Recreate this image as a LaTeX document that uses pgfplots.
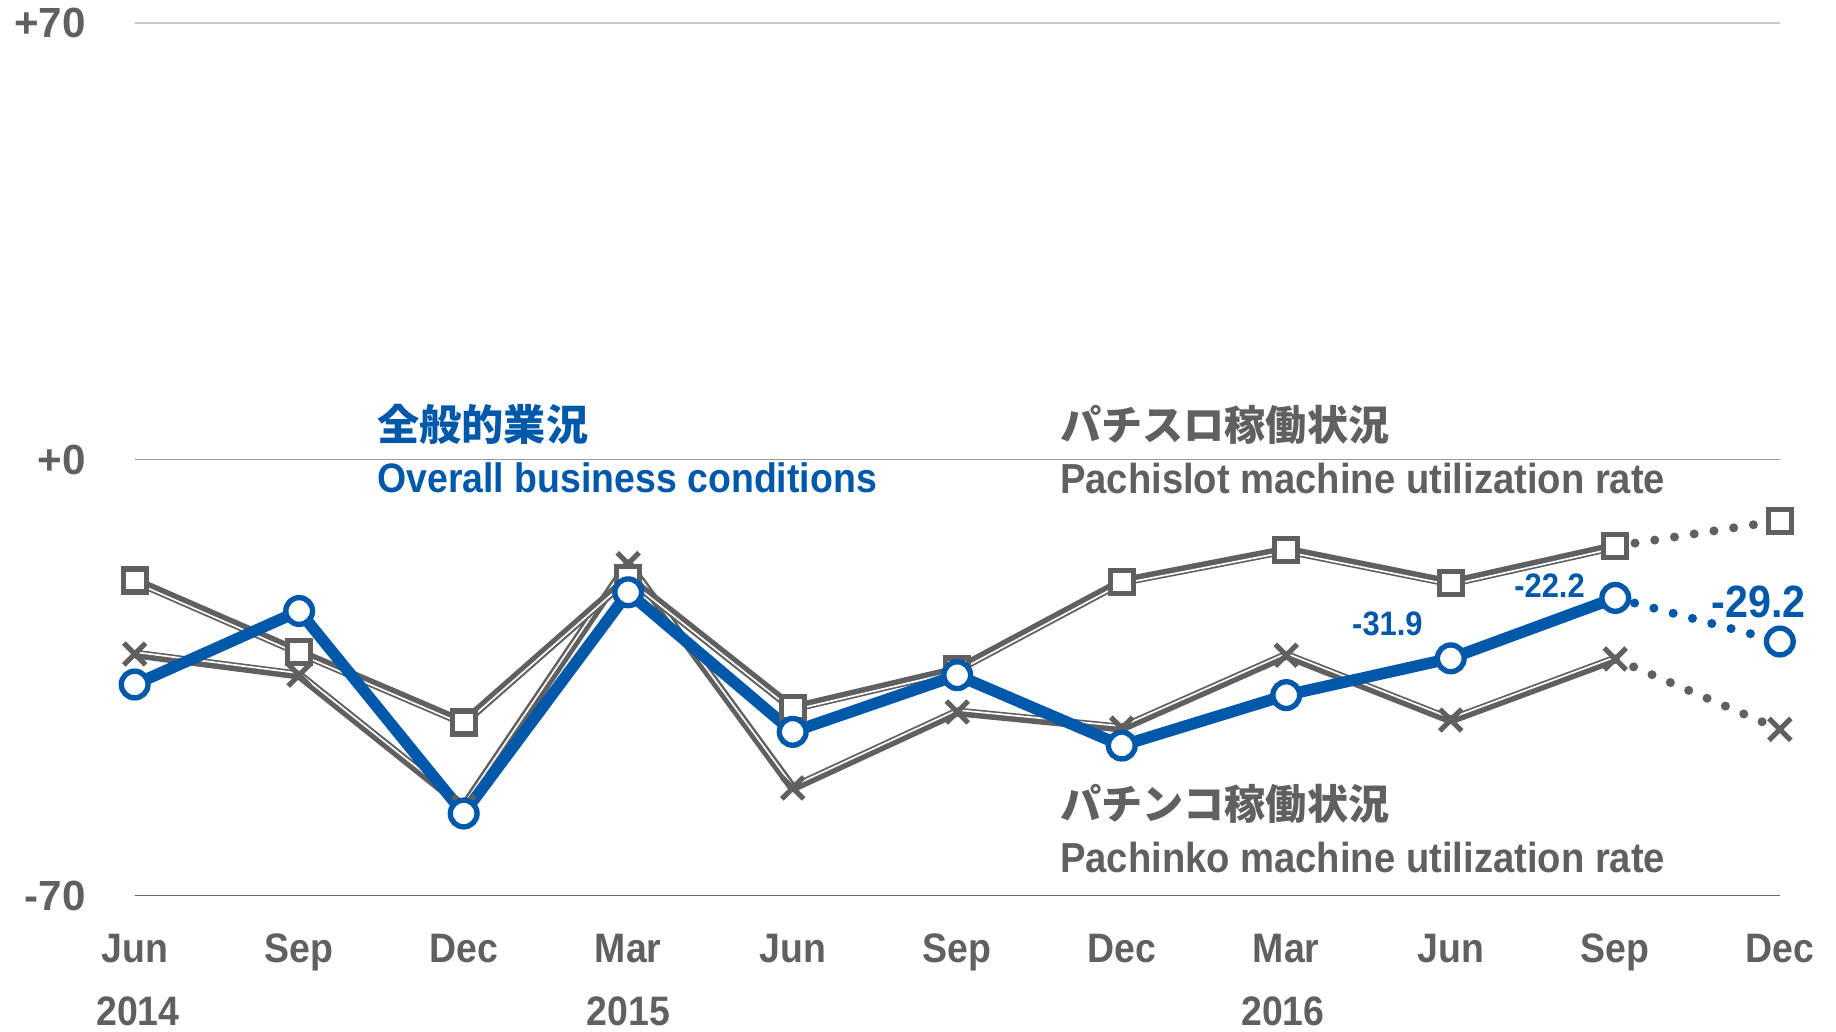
\documentclass[border=0pt]{standalone}
\usepackage{pgfplots}
\pgfplotsset{compat=1.18}
\usepackage{pgfplotstable}
\usepackage{fontspec}
\setmainfont{Liberation Sans}[FakeStretch=0.91]
\newfontfamily\widefont{Liberation Sans}
\newfontfamily\cjk{Noto Sans CJK JP}
\definecolor{cblue}{RGB}{0,88,170}
\definecolor{cgray}{RGB}{96,96,96}
\definecolor{cgrid}{RGB}{200,200,200}
\pgfplotstableread{
x overall slot pachinko
0 -36.1 -19.4 -31.2
1 -24.3 -30.9 -34.6
2 -56.8 -42.2 -55.7
3 -21.3 -19.0 -16.7
4 -43.7 -39.9 -52.7
5 -34.6 -33.7 -40.5
6 -45.9 -19.6 -43.1
7 -37.8 -14.5 -31.4
8 -31.9 -19.8 -41.8
9 -22.2 -13.9 -32.0
10 -29.2 -9.8 -43.3
}\data
\begin{document}
\begin{tikzpicture}
\begin{axis}[
  at={(0,0)}, anchor=south west,
  width=281mm, height=149mm, scale only axis,
  xmin=0, xmax=10, ymin=-70, ymax=70,
  clip=false,
  axis line style={draw=none},
  major tick length=0pt,
  xtick={0,...,10},
  xticklabels={Jun,Sep,Dec,Mar,Jun,Sep,Dec,Mar,Jun,Sep,Dec},
  ytick={-70,0,70},
  yticklabels={-70,+0,+70},
  tick label style={font=\bfseries\fontsize{20}{24}\selectfont, text=cgray},
  xticklabel style={anchor=base, yshift=-11.4mm, inner sep=0pt},
  yticklabel style={anchor=east, xshift=-8.3mm, inner sep=0pt, font=\widefont\bfseries\fontsize{20.5}{24}\selectfont},
]
% grid lines
\draw[cgrid, line width=0.9pt] (axis cs:0,70) -- (axis cs:10,70);
\draw[color={rgb,255:red,154;green,154;blue,154}, line width=0.6pt] (axis cs:0,0) -- (axis cs:10,0);
\draw[color={rgb,255:red,102;green,102;blue,102}, line width=0.6pt] (axis cs:0,-70) -- (axis cs:10,-70);
% Pachinko
\addplot[cgray, line width=4.3pt, line join=round, restrict x to domain=0:9, forget plot] table[x=x,y=pachinko]{\data};
\addplot[white, line width=0.8pt, yshift=0.95pt, restrict x to domain=0:9, forget plot] table[x=x,y=pachinko]{\data};
\addplot[cgray, line width=4.4pt, dash pattern=on 0pt off 9.7pt, line cap=round, restrict x to domain=9:10, forget plot] table[x=x,y=pachinko]{\data};
\addplot[only marks, mark=x, mark size=7.5pt, mark options={cgray, line width=2.5pt}, forget plot] table[x=x,y=pachinko]{\data};
% Pachislot
\addplot[cgray, line width=4.3pt, line join=round, restrict x to domain=0:9, forget plot] table[x=x,y=slot]{\data};
\addplot[white, line width=0.8pt, yshift=-0.95pt, restrict x to domain=0:9, forget plot] table[x=x,y=slot]{\data};
\addplot[cgray, line width=4.4pt, dash pattern=on 0pt off 9.7pt, line cap=round, restrict x to domain=9:10, forget plot] table[x=x,y=slot]{\data};
\addplot[only marks, mark=square*, mark size=5.6pt, mark options={draw=cgray, fill=white, line width=2.5pt, rounded corners=0.8pt}, forget plot] table[x=x,y=slot]{\data};
% Overall
\addplot[cblue, line width=5.6pt, line join=round, restrict x to domain=0:9, forget plot] table[x=x,y=overall]{\data};
\addplot[cblue, line width=4.4pt, dash pattern=on 0pt off 9.7pt, line cap=round, restrict x to domain=9:10, forget plot] table[x=x,y=overall]{\data};
\addplot[only marks, mark=*, mark size=6.5pt, mark options={draw=cblue, fill=white, line width=2.6pt}, forget plot] table[x=x,y=overall]{\data};

% series labels
\node[anchor=west, inner sep=0pt, text=cblue, font=\cjk\bfseries\fontsize{20.5}{24}\selectfont] at (axis cs:1.473,5.6) {全般的業況};
\node[anchor=west, inner sep=0pt, text=cblue, font=\bfseries\fontsize{20}{24}\selectfont] at (axis cs:1.473,-3.0) {Overall business conditions};
\node[anchor=west, inner sep=0pt, text=cgray, font=\cjk\bfseries\fontsize{20}{24}\selectfont] at (axis cs:5.623,5.6) {パチスロ稼働状況};
\node[anchor=west, inner sep=0pt, text=cgray, font=\bfseries\fontsize{20.4}{24}\selectfont] at (axis cs:5.623,-3.0) {Pachislot machine utilization rate};
\node[anchor=west, inner sep=0pt, text=cgray, font=\cjk\bfseries\fontsize{20}{24}\selectfont] at (axis cs:5.623,-55.3) {パチンコ稼働状況};
\node[anchor=west, inner sep=0pt, text=cgray, font=\bfseries\fontsize{20.4}{24}\selectfont] at (axis cs:5.623,-63.8) {Pachinko machine utilization rate};
% value labels
\node[inner sep=0pt, text=cblue, font=\bfseries\fontsize{16.5}{20}\selectfont] at (axis cs:7.615,-26.4) {-31.9};
\node[inner sep=0pt, text=cblue, font=\bfseries\fontsize{16.5}{20}\selectfont] at (axis cs:8.60,-20.3) {-22.2};
\node[inner sep=0pt, text=cblue, font=\bfseries\fontsize{22}{26}\selectfont] at (axis cs:9.87,-22.8) {-29.2};
% years
\node[anchor=base, inner sep=0pt, text=cgray, font=\bfseries\fontsize{20}{24}\selectfont] at (axis cs:0.02,-90.9) {2014};
\node[anchor=base, inner sep=0pt, text=cgray, font=\bfseries\fontsize{20}{24}\selectfont] at (axis cs:3,-90.9) {2015};
\node[anchor=base, inner sep=0pt, text=cgray, font=\bfseries\fontsize{20}{24}\selectfont] at (axis cs:6.98,-90.9) {2016};
\end{axis}
\pgfresetboundingbox
\path[use as bounding box] (-23mm,-23.2mm) rectangle (290.6mm,153mm);
\end{tikzpicture}
\end{document}
